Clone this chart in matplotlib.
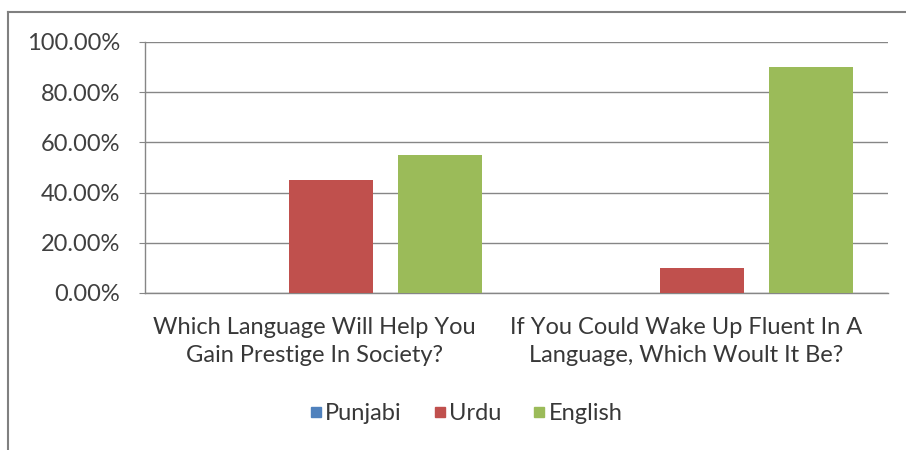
import matplotlib
matplotlib.use("Agg")
import matplotlib.pyplot as plt
import matplotlib.transforms as mtransforms
from matplotlib.lines import Line2D
from matplotlib.ticker import FuncFormatter
import numpy as np

plt.rcParams['font.family'] = ['Lato', 'DejaVu Sans']

categories = ["Which Language Will Help You\nGain Prestige In Society?",
              "If You Could Wake Up Fluent In A\nLanguage, Which Woult It Be?"]
series_names = ["Punjabi", "Urdu", "English"]
punjabi = [0.0, 0.0]
urdu = [45.0, 10.0]
english = [55.0, 90.0]
colors = ["#4F81BD", "#C0504D", "#9BBB59"]

fig = plt.figure(figsize=(9.06, 4.5), dpi=100)
ax = fig.add_axes([0.160, 0.349, 0.820, 0.558])

x = np.arange(len(categories))
width = 0.226
offset = 0.294
for i, (vals, col) in enumerate(zip([punjabi, urdu, english], colors)):
    ax.bar(x + (i - 1) * offset, vals, width=width, color=col, zorder=3)

ax.set_xlim(-0.5, 1.5)
ax.set_ylim(0, 100)
ax.set_yticks(np.arange(0, 101, 20))
ax.yaxis.set_major_formatter(FuncFormatter(lambda v, p: f"{v:.2f}%"))
ax.set_xticks(x)
ax.set_xticklabels(categories, fontsize=17, color="#383838", linespacing=1.45)
ax.tick_params(axis='x', length=0, pad=17)
ax.tick_params(axis='y', labelsize=17, labelcolor="#404040", length=4,
               color="#868686", pad=14)
shift = mtransforms.ScaledTranslation(-16 / 100, 0, fig.dpi_scale_trans)
for lbl in ax.get_xticklabels():
    lbl.set_transform(lbl.get_transform() + shift)
ax.grid(axis='y', color="#868686", linewidth=1.0, zorder=0)
for s in ['top', 'right']:
    ax.spines[s].set_visible(False)
for s in ['left', 'bottom']:
    ax.spines[s].set_color("#868686")
    ax.spines[s].set_linewidth(1.0)

handles = [Line2D([0], [0], marker='s', linestyle='', markersize=7,
                  markerfacecolor=c, markeredgecolor=c) for c in colors]
fig.legend(handles, series_names, loc='center', bbox_to_anchor=(0.510, 0.080),
           ncol=3, frameon=False, fontsize=17, handletextpad=-0.2,
           columnspacing=1.0, handlelength=1.2, labelcolor="#383838")

# outer chart frame
fig.add_artist(Line2D([8/906, 8/906], [0, 1 - 12/450], transform=fig.transFigure,
                      color="#808080", linewidth=1.5))
fig.add_artist(Line2D([8/906, 1], [1 - 12/450, 1 - 12/450], transform=fig.transFigure,
                      color="#808080", linewidth=1.5))

fig.savefig("out.png", dpi=100)
